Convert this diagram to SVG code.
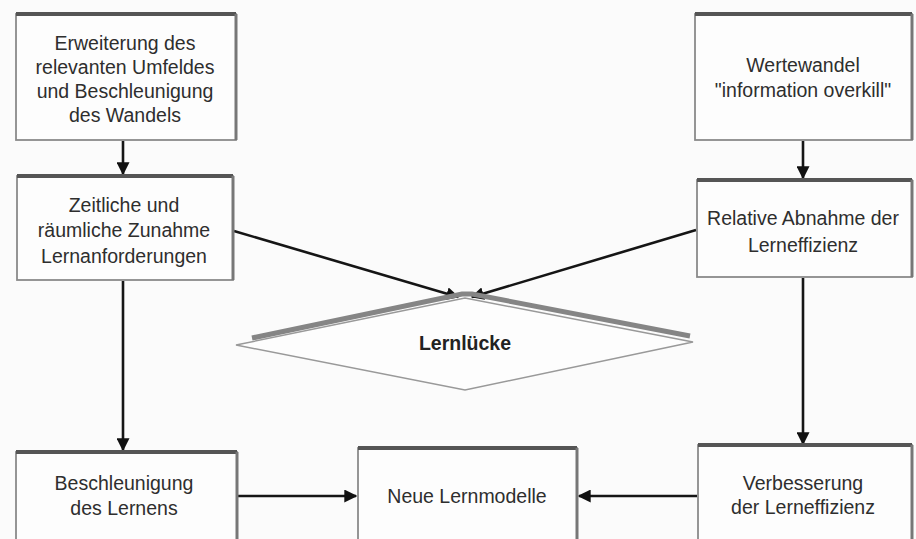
<svg xmlns="http://www.w3.org/2000/svg" width="916" height="539" viewBox="0 0 916 539">
<defs>
<style>
.box{fill:#fdfdfd;stroke:#8a8a8a;stroke-width:1.8}
.top{stroke:#555;stroke-width:4;fill:none}
.side{stroke:#777;stroke-width:3;fill:none}
.t{font-family:"Liberation Sans",Arial,sans-serif;font-size:19.5px;fill:#2e2e2e;text-anchor:middle;dominant-baseline:central}
.b{font-weight:bold;fill:#222}
.c{stroke:#151515;stroke-width:2.6;fill:none;marker-end:url(#ah)}
</style>
<marker id="ah" viewBox="0 0 10 10" refX="9" refY="5" markerWidth="5" markerHeight="5" orient="auto" markerUnits="strokeWidth">
<path d="M0,0 L10,5 L0,10 z" fill="#111"/>
</marker>
</defs>
<rect width="916" height="539" fill="#fbfbfb"/>

<g id="connectors">
<line class="c" x1="123" y1="141" x2="123" y2="174"/>
<line class="c" x1="803" y1="141" x2="803" y2="178"/>
<line class="c" x1="234" y1="231" x2="458" y2="297"/>
<line class="c" x1="696" y1="230" x2="472" y2="297"/>
<line class="c" x1="123" y1="281" x2="123" y2="450"/>
<line class="c" x1="803" y1="278" x2="803" y2="444"/>
<line class="c" x1="238" y1="496" x2="356" y2="496"/>
<line class="c" x1="697" y1="496" x2="579" y2="496"/>
</g>

<g id="n1">
<rect class="box" x="16" y="14" width="220" height="126"/>
<line class="top" x1="16" y1="14" x2="236" y2="14"/>
<line class="side" x1="236" y1="14" x2="236" y2="140"/>
<text class="t" x="125" y="43">Erweiterung des</text>
<text class="t" x="125" y="67">relevanten Umfeldes</text>
<text class="t" x="125" y="91">und Beschleunigung</text>
<text class="t" x="125" y="115">des Wandels</text>
</g>

<g id="n2">
<rect class="box" x="17" y="176" width="216" height="104"/>
<line class="top" x1="17" y1="176" x2="233" y2="176"/>
<line class="side" x1="233" y1="176" x2="233" y2="280"/>
<text class="t" x="124" y="205">Zeitliche und</text>
<text class="t" x="124" y="230">räumliche Zunahme</text>
<text class="t" x="124" y="256">Lernanforderungen</text>
</g>

<g id="n3">
<rect class="box" x="695" y="14" width="217" height="126"/>
<line class="top" x1="695" y1="14" x2="912" y2="14"/>
<line class="side" x1="912" y1="14" x2="912" y2="140"/>
<text class="t" x="803" y="65">Wertewandel</text>
<text class="t" x="803" y="90">"information overkill"</text>
</g>

<g id="n4">
<rect class="box" x="697" y="180" width="215" height="97"/>
<line class="top" x1="697" y1="180" x2="912" y2="180"/>
<line class="side" x1="912" y1="180" x2="912" y2="277"/>
<text class="t" x="803" y="218">Relative Abnahme der</text>
<text class="t" x="803" y="245">Lerneffizienz</text>
</g>

<g id="n5">
<polygon points="236,345 465,298 693,342 465,390" fill="#fdfdfd" stroke="#999" stroke-width="1.5"/>
<polyline points="252,338 462,294 472,294 690,336" fill="none" stroke="#858585" stroke-width="5"/>
<text class="t b" x="465" y="343">Lernlücke</text>
</g>

<g id="n6">
<rect class="box" x="16" y="452" width="221" height="95"/>
<line class="top" x1="16" y1="452" x2="237" y2="452"/>
<line class="side" x1="237" y1="452" x2="237" y2="547"/>
<text class="t" x="124" y="483">Beschleunigung</text>
<text class="t" x="124" y="508">des Lernens</text>
</g>

<g id="n7">
<rect class="box" x="358" y="448" width="219" height="99"/>
<line class="top" x1="358" y1="448" x2="577" y2="448"/>
<line class="side" x1="577" y1="448" x2="577" y2="547"/>
<text class="t" x="467" y="496">Neue Lernmodelle</text>
</g>

<g id="n8">
<rect class="box" x="698" y="445" width="214" height="102"/>
<line class="top" x1="698" y1="445" x2="912" y2="445"/>
<line class="side" x1="912" y1="445" x2="912" y2="547"/>
<text class="t" x="803" y="483">Verbesserung</text>
<text class="t" x="803" y="507">der Lerneffizienz</text>
</g>
</svg>
